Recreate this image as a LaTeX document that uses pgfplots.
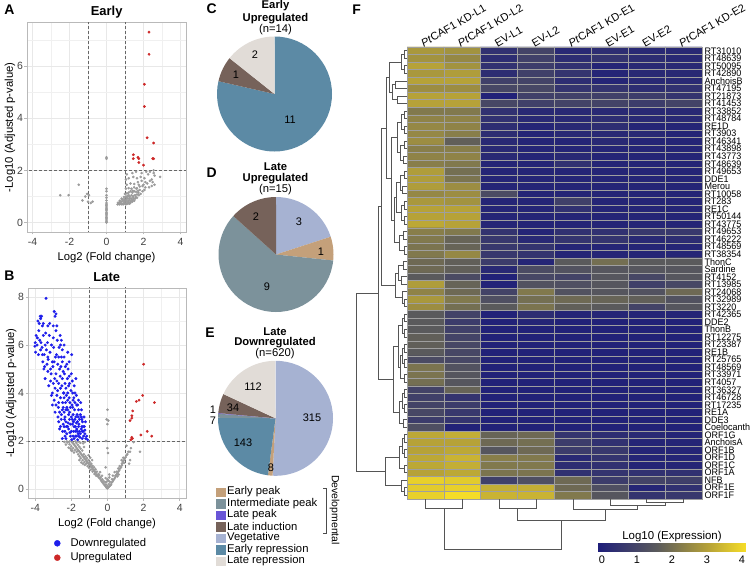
\documentclass[border=0pt]{standalone}
\usepackage{fontspec}
\setmainfont{Liberation Sans}
\newfontfamily\narrowfont[FakeStretch=0.95]{Liberation Sans}
\usepackage{pgfplots}
\pgfplotsset{compat=1.18}

\newcommand\fs[1]{\fontsize{#1}{#1}\selectfont}

\definecolor{epeak}{RGB}{196,160,122}
\definecolor{ipeak}{RGB}{124,146,155}
\definecolor{lpeak}{RGB}{105,85,215}
\definecolor{lind}{RGB}{118,98,90}
\definecolor{veg}{RGB}{166,178,210}
\definecolor{erep}{RGB}{92,138,165}
\definecolor{lrep}{RGB}{225,220,215}
\definecolor{down}{RGB}{30,30,235}
\definecolor{up}{RGB}{205,40,40}
\definecolor{ns}{RGB}{155,155,155}
\definecolor{dendro}{RGB}{85,85,85}

\pgfplotsset{
  colormap={hm}{rgb255(0cm)=(30,30,122) rgb255(1.6cm)=(90,90,92) rgb255(3cm)=(182,162,56) rgb255(4cm)=(245,220,40)},
  volc/.style={
    scale only axis, anchor=north west,
    /pgf/number format/assume math mode=true,
    axis line style={gray!55, line width=0.7pt},
    xtick={-4,-2,0,2,4}, minor xtick={-3,-1,1,3},
    grid=both,
    major grid style={gray!18, line width=0.7pt},
    minor grid style={gray!12, line width=0.4pt},
    tick pos=left, tick align=outside,
    major tick length=2.5bp, minor tick length=0pt,
    tick style={gray!55, line width=0.6pt},
    tick label style={font=\fs{10.5}, text=black!75},
    yticklabel style={xshift=2bp},
    xlabel={Log2 (Fold change)}, ylabel={-Log10 (Adjusted p-value)},
    label style={font=\fs{11.3}},
    ylabel style={at={(axis description cs:-0.107,0.5)}, anchor=center},
  },
  nsdot/.style={only marks, mark=*, mark size=1.1bp, ns, mark options={draw=none, fill=ns}},
  updot/.style={only marks, mark=*, mark size=1.2bp, up, mark options={draw=none, fill=up}},
  downdot/.style={only marks, mark=*, mark size=1.3bp, down, mark options={draw=none, fill=down}},
  vline/.style={black!60, line width=0.6pt, dash pattern=on 3bp off 2bp},
}

% pie slices, clockwise from 12 o'clock, counts given as value/colour
\newcommand\pie[3]{%
  \gdef\ptot{0}%
  \foreach \v/\c in {#3}{\pgfmathsetmacro\t{\ptot+\v}\xdef\ptot{\t}}%
  \gdef\pa{90}%
  \foreach \v/\c in {#3}{%
    \pgfmathsetmacro\pb{\pa-\v/\ptot*360}%
    \edef\temp{\noexpand\fill[\c] (axis cs:#1,#2) -- ++(\pa:57.5bp) arc[start angle=\pa, end angle=\pb, radius=57.5bp] -- cycle;}%
    \temp
    \xdef\pa{\pb}}%
}

\begin{document}
\begin{tikzpicture}
\useasboundingbox (0,0) rectangle (754bp,571bp);

% ---------------- A: Early volcano
\begin{axis}[volc, at={(27bp,548.3bp)}, width=159bp, height=209.3bp,
  xmin=-4.3, xmax=4.3, ymin=-0.36, ymax=7.66,
  ytick={0,2,4,6}, minor ytick={1,3,5,7}]
\addplot[nsdot] coordinates {
(0,0.0)(0,0.05)(0,0.1)(0,0.15)(0,0.2)(0,0.25)(0,0.3)(0,0.35)(0,0.4)(0,0.45)(0,0.5)(0,0.55)(0,0.6)(0,0.65)(0,0.7)(0,0.75)
(0,0.85)(0,0.95)(0,1.05)(0,1.2)(0,1.3)(0,2.45)(0,2.5)
(-2.5,1.05)(-2.05,1.05)(-1.5,1.45)(-1.3,0.85)(-1.15,1.0)(-1.05,1.1)(-0.95,1.05)(-0.85,0.75)(-0.75,0.8)(-1.0,0.8)
(0.6,0.7)(0.65,0.72)(0.7,0.7)(0.75,0.74)(0.8,0.7)(0.85,0.72)(0.9,0.7)(0.95,0.75)(1.0,0.72)(1.05,0.7)(1.1,0.74)(1.15,0.72)(1.2,0.75)(1.25,0.73)(1.3,0.76)
(0.7,0.78)(0.8,0.8)(0.9,0.82)(1.0,0.8)(1.1,0.82)(1.2,0.84)(1.3,0.82)(1.4,0.8)(1.5,0.84)
(0.85,0.88)(0.95,0.9)(1.05,0.88)(1.15,0.92)(1.25,0.9)(1.35,0.92)(1.45,0.9)(1.55,0.92)(1.65,0.95)
(0.95,0.98)(1.05,1.0)(1.15,1.02)(1.25,1.0)(1.35,1.05)(1.45,1.02)(1.55,1.05)(1.65,1.08)(1.75,1.05)(1.85,1.1)
(1.0,1.1)(1.1,1.12)(1.2,1.15)(1.3,1.2)(1.4,1.15)(1.5,1.2)(1.6,1.18)(1.7,1.22)(1.8,1.25)(1.95,1.2)(2.05,1.25)
(1.05,1.3)(1.2,1.32)(1.35,1.3)(1.5,1.35)(1.65,1.32)(1.8,1.38)(1.95,1.4)(2.1,1.35)(2.3,1.35)(2.45,1.4)
(1.1,1.45)(1.3,1.5)(1.5,1.48)(1.7,1.55)(1.9,1.6)(2.1,1.55)(2.5,1.55)(2.6,1.45)
(1.2,1.7)(1.45,1.75)(1.65,1.7)(1.85,1.75)(2.05,1.7)(2.25,1.85)(2.6,1.8)(2.9,1.75)(2.45,1.65)
(1.1,1.85)(1.4,1.9)(1.6,1.95)(1.9,1.9)(2.15,1.95)(2.35,1.95)(2.55,1.9)(1.05,1.65)
(1.25,0.95)(1.45,0.97)(0.98,0.85)(1.08,0.95)(1.18,0.78)(1.38,0.86)(1.58,0.98)(1.72,1.15)(0.62,0.76)(0.72,0.84)(0.82,0.92)
(2.2,1.5)(2.35,1.6)(1.75,1.45)(1.62,1.3)(1.42,1.22)(1.2,1.05)(2.0,1.45)(2.55,2.0)
};
\addplot[updot] coordinates {
(2.3,7.3)(2.3,6.45)(2.05,5.3)(2.05,4.45)(2.2,3.25)(2.55,3.05)(1.45,2.6)(1.45,2.45)
(1.7,2.5)(1.75,2.45)(1.75,2.3)(2.0,2.2)(2.5,2.45)(2.55,2.45)
};
\addplot[vline] coordinates {(-1,-1)(-1,9)};
\addplot[vline] coordinates {(1,-1)(1,9)};
\addplot[vline] coordinates {(-5,2)(5,2)};
\end{axis}

% ---------------- B: Late volcano
\begin{axis}[volc, at={(28bp,283bp)}, width=158bp, height=210bp,
  xmin=-4.4, xmax=4.35, ymin=-0.38, ymax=8.38,
  ytick={0,2,4,6,8}, minor ytick={1,3,5,7}]
\addplot[nsdot] coordinates {
(0,0.02)(-0.05,0.05)(0.05,0.06)(-0.1,0.1)(0.1,0.1)(-0.15,0.15)(0.15,0.14)(-0.2,0.2)(0.2,0.18)(0,0.12)(-0.08,0.18)(0.08,0.2)(0.02,0.08)
(-0.25,0.25)(-0.3,0.3)(-0.35,0.35)(-0.4,0.42)(-0.45,0.45)(-0.5,0.5)(-0.2,0.32)(-0.28,0.4)(-0.38,0.48)(0.22,0.25)(0.28,0.3)
(0.32,0.36)(0.38,0.42)(0.25,0.4)(0.42,0.48)(-0.12,0.28)(0.12,0.3)(-0.05,0.3)(0.05,0.35)(0,0.4)(-0.1,0.45)(0.1,0.48)
(-0.55,0.55)(-0.6,0.6)(-0.65,0.68)(-0.7,0.72)(-0.75,0.78)(-0.8,0.82)(-0.85,0.88)(-0.9,0.92)(-0.95,0.98)(-1.0,1.0)
(-0.5,0.62)(-0.58,0.72)(-0.66,0.82)(-0.74,0.9)(-0.82,0.96)(-0.62,0.55)(-0.72,0.62)(-0.82,0.72)(-0.92,0.8)(-1.02,0.88)
(-1.1,0.95)(-0.45,0.58)(0.45,0.55)(0.5,0.6)(0.55,0.65)(0.6,0.72)(0.65,0.78)(0.7,0.85)(0.75,0.9)(0.52,0.72)(0.6,0.85)
(0.68,0.95)(0.8,0.98)(0.55,0.52)(0.62,0.6)(-0.3,0.55)(0.3,0.55)(-0.4,0.7)(0.4,0.7)
(-1.05,1.05)(-1.1,1.1)(-1.15,1.15)(-1.2,1.2)(-1.25,1.25)(-1.3,1.3)(-1.35,1.35)(-1.4,1.4)(-1.45,1.45)(-0.9,1.05)
(-0.98,1.12)(-1.06,1.2)(-1.14,1.28)(-1.22,1.36)(-1.3,1.44)(-1.18,1.05)(-1.28,1.12)(-1.38,1.2)(-1.48,1.28)(-1.55,1.36)
(-1.62,1.44)(-1.45,1.1)(-1.55,1.2)(-1.25,1.0)(-1.35,1.05)(-1.5,1.5)(-0.85,1.2)(-0.95,1.3)(-1.05,1.4)
(0.8,1.05)(0.85,1.12)(0.9,1.18)(0.95,1.25)(1.0,1.32)(0.88,1.3)(0.78,1.2)(0.92,1.08)(1.05,1.4)(1.1,1.45)(1.2,1.05)(1.25,1.2)
(-1.55,1.55)(-1.6,1.6)(-1.65,1.65)(-1.7,1.7)(-1.75,1.75)(-1.8,1.8)(-1.85,1.85)(-1.9,1.9)(-1.95,1.95)(-2.0,1.98)
(-1.4,1.6)(-1.48,1.68)(-1.56,1.76)(-1.64,1.84)(-1.72,1.92)(-1.7,1.55)(-1.8,1.62)(-1.9,1.7)(-2.0,1.78)(-2.1,1.86)
(-2.2,1.94)(-1.85,1.52)(-2.0,1.6)(-2.15,1.72)(-2.3,1.85)(-2.38,1.96)(-1.3,1.75)(-1.35,1.9)(-1.25,1.95)(-1.5,1.92)
(-1.62,1.98)(-1.78,1.98)(-2.25,1.98)(-2.1,1.98)(-1.95,1.6)(-2.05,1.68)
(1.3,1.7)(1.45,1.95)(1.8,1.55)(1.15,1.55)(1.05,1.8)(1.25,1.55)
(0,3.3)(-0.05,2.9)(0.05,2.85)(0,2.7)(-0.08,2.0)(0,1.7)(0.03,1.5)(-0.1,0.9)(0.1,0.6)
};
\addplot[downdot] coordinates {
(-4.02,5.95)(-3.98,5.7)(-3.95,6.4)(-4.0,6.1)
(-3.85,7.0)(-3.8,6.6)(-3.78,6.9)(-3.82,5.6)(-3.75,6.2)(-3.88,6.3)(-3.72,7.2)
(-3.65,7.2)(-3.6,6.8)(-3.55,6.4)(-3.62,5.9)(-3.58,5.3)(-3.68,6.1)(-3.52,5.0)(-3.45,6.0)
(-3.4,7.95)(-3.42,6.5)(-3.38,5.8)(-3.35,5.2)(-3.45,4.6)(-3.32,6.1)(-3.3,5.5)(-3.48,5.1)
(-3.2,6.9)(-3.22,6.4)(-3.18,5.7)(-3.15,5.0)(-3.25,4.3)(-3.12,4.8)(-3.28,5.4)(-3.1,6.0)(-3.05,5.3)
(-2.95,7.4)(-2.9,7.2)(-3.0,6.3)(-2.98,5.9)(-3.02,5.1)(-2.92,4.6)(-3.05,4.0)(-2.88,5.5)(-2.85,6.6)(-2.95,3.7)
(-2.8,6.8)(-2.78,6.2)(-2.82,5.6)(-2.75,5.2)(-2.85,4.8)(-2.7,4.4)(-2.8,3.9)(-2.72,3.4)(-2.65,5.0)(-2.68,5.9)(-2.76,4.1)(-2.62,6.4)(-2.74,3.0)
(-2.6,6.0)(-2.55,5.5)(-2.58,5.1)(-2.62,4.7)(-2.52,4.3)(-2.6,3.8)(-2.5,3.3)(-2.56,2.9)(-2.45,4.9)(-2.48,3.6)(-2.65,2.5)(-2.5,5.8)(-2.42,4.0)
(-2.4,5.5)(-2.38,4.8)(-2.35,4.4)(-2.42,4.0)(-2.32,3.6)(-2.4,3.2)(-2.3,2.8)(-2.36,2.4)(-2.28,3.9)(-2.25,3.4)(-2.33,5.1)(-2.22,4.6)(-2.3,2.1)(-2.2,2.6)
(-2.2,5.7)(-2.18,5.0)(-2.15,4.3)(-2.12,3.8)(-2.2,3.3)(-2.1,2.9)(-2.15,2.5)(-2.05,2.2)(-2.08,3.6)(-2.02,4.1)(-2.12,4.7)(-2.0,3.0)(-2.06,2.7)
(-1.98,5.6)(-1.95,4.5)(-1.92,4.0)(-1.96,3.5)(-1.9,3.1)(-1.94,2.7)(-1.88,2.4)(-1.85,2.1)(-1.82,3.3)(-1.8,2.9)(-1.86,3.8)(-1.78,2.6)(-1.84,4.3)(-1.76,2.2)
(-1.72,3.9)(-1.7,3.5)(-1.68,3.1)(-1.66,2.8)(-1.7,2.5)(-1.62,2.3)(-1.65,2.05)(-1.6,3.3)(-1.58,2.7)(-1.55,2.4)(-1.6,3.7)(-1.52,2.15)(-1.75,4.6)
(-1.48,3.6)(-1.45,3.0)(-1.42,2.6)(-1.5,2.3)(-1.4,2.1)(-1.38,2.8)(-1.35,2.4)(-1.44,3.3)(-1.32,2.2)
(-1.28,2.6)(-1.25,2.3)(-1.2,2.1)(-1.22,2.8)(-1.15,2.2)(-1.1,2.05)(-1.3,3.0)
(-2.55,3.1)(-2.45,2.7)(-2.35,3.0)(-2.25,2.3)(-2.15,3.1)(-2.05,3.4)(-1.95,2.9)(-1.85,2.6)(-1.75,3.0)(-1.65,3.5)(-1.55,2.9)
(-1.45,2.5)(-2.5,2.1)(-2.4,2.6)(-2.3,3.3)(-2.2,3.7)(-2.1,3.2)(-2.0,2.4)(-1.9,2.2)(-1.8,3.6)(-1.7,2.2)(-1.6,2.6)(-1.5,3.1)
(-1.4,2.4)(-2.7,3.6)(-2.6,4.2)(-2.5,4.6)(-2.4,3.8)(-2.3,4.2)(-2.2,4.0)(-2.1,4.4)(-2.0,4.8)(-1.9,3.7)(-1.8,4.0)(-2.9,4.2)
(-2.85,3.5)(-3.1,3.9)(-3.0,4.4)(-2.95,5.3)(-2.7,5.5)(-2.55,6.2)(-2.8,4.5)(-3.15,4.5)(-3.3,4.9)(-3.5,5.6)(-3.7,5.8)
(-2.65,3.2)(-2.35,2.2)(-2.45,3.4)(-1.98,2.05)(-1.72,2.75)(-1.62,3.0)(-1.92,3.4)(-2.18,2.75)(-2.28,2.6)(-2.38,2.9)
(-2.48,2.4)(-1.58,2.2)(-1.68,2.4)(-1.78,2.4)(-1.88,2.8)(-2.08,2.35)(-1.42,2.9)(-1.35,2.6)(-1.25,2.45)(-2.6,2.6)
(-2.7,2.8)(-2.9,3.2)(-3.05,3.5)(-2.25,5.2)(-2.12,5.3)(-2.4,6.0)(-2.5,5.3)(-3.0,6.8)(-3.3,6.8)(-3.55,6.9)(-3.7,7.1)
(-2.85,7.3)(-3.6,5.6)(-3.9,6.0)
};
\addplot[updot] coordinates {
(2.0,5.2)(1.95,3.9)(1.75,3.7)(1.6,3.65)(2.6,3.6)(1.4,3.25)(1.35,3.05)(1.35,2.95)
(1.25,2.85)(2.2,2.4)(1.85,2.25)(2.45,2.2)(1.35,2.15)(1.3,2.05)(1.38,2.1)
};
\addplot[vline] coordinates {(-1,-1)(-1,9)};
\addplot[vline] coordinates {(1,-1)(1,9)};
\addplot[vline] coordinates {(-5,2)(5,2)};
\end{axis}

% ---------------- F: heatmap
\begin{axis}[at={(407bp,524bp)}, anchor=north west, scale only axis,
  width=295bp, height=452bp,
  xmin=-0.5, xmax=7.5, ymin=-0.5, ymax=59.5, y dir=reverse,
  colormap name=hm, point meta min=0, point meta max=4,
  axis line style={gray!75, line width=0.7pt},
  xtick={0,...,7}, xticklabel pos=upper,
  xticklabels={{\textit{Pt}CAF1 KD-L1},{\textit{Pt}CAF1 KD-L2},EV-L1,EV-L2,{\textit{Pt}CAF1 KD-E1},EV-E1,EV-E2,{\textit{Pt}CAF1 KD-E2}},
  xticklabel style={rotate=30, anchor=south west, font=\fs{11}, xshift=-5bp, yshift=-3bp},
  ytick={0,...,59}, yticklabel pos=right,
  yticklabels={RT31010,RT48639,RT50095,RT42890,AnchoisB,RT47195,RT21873,RT41453,RT33852,RT48784,RE1D,RT3903,RT46341,RT43898,RT43773,RT48639,RT49653,DDE1,Merou,RT10058,RT283,RE1C,RT50144,RT43775,RT49653,RT46222,RT48569,RT38354,ThonC,Sardine,RT4152,RT13985,RT24068,RT32989,RT3220,RT42365,DDE2,ThonB,RT12275,RT23387,RE1B,RT25765,RT48569,RT33971,RT4057,RT36327,RT46728,RT17235,RE1A,DDE3,Coelocanth,ORF1G,AnchoisA,ORF1B,ORF1D,ORF1C,ORF1A,NFB,ORF1E,ORF1F},
  yticklabel style={font=\narrowfont\fs{9.5}, xshift=-1bp},
  major tick length=0pt,
  extra x ticks={0.5,1.5,...,6.5}, extra x tick labels={},
  extra y ticks={0.5,1.5,...,58.5}, extra y tick labels={},
  extra tick style={grid=major},
  major grid style={gray!75, line width=0.6pt},
  axis on top]
\addplot[matrix plot*, mesh/cols=8, point meta=explicit] coordinates {
(0,0)[2.8] (1,0)[2.7] (2,0)[0.5] (3,0)[1.0] (4,0)[0.3] (5,0)[0.4] (6,0)[0.3] (7,0)[0.3]
(0,1)[2.7] (1,1)[2.5] (2,1)[0.4] (3,1)[0.9] (4,1)[0.4] (5,1)[0.6] (6,1)[0.4] (7,1)[0.3]
(0,2)[3.0] (1,2)[2.7] (2,2)[0.5] (3,2)[0.8] (4,2)[0.5] (5,2)[0.2] (6,2)[0.3] (7,2)[0.3]
(0,3)[2.8] (1,3)[2.9] (2,3)[0.4] (3,3)[0.9] (4,3)[0.6] (5,3)[0.2] (6,3)[0.3] (7,3)[0.3]
(0,4)[3.0] (1,4)[3.0] (2,4)[0.9] (3,4)[1.0] (4,4)[0.4] (5,4)[0.2] (6,4)[0.3] (7,4)[0.3]
(0,5)[2.6] (1,5)[2.6] (2,5)[1.1] (3,5)[1.1] (4,5)[0.6] (5,5)[0.6] (6,5)[0.4] (7,5)[0.5]
(0,6)[3.0] (1,6)[3.0] (2,6)[0.1] (3,6)[0.9] (4,6)[0.9] (5,6)[0.9] (6,6)[0.8] (7,6)[0.6]
(0,7)[3.0] (1,7)[3.0] (2,7)[1.1] (3,7)[0.9] (4,7)[1.0] (5,7)[1.0] (6,7)[0.8] (7,7)[1.0]
(0,8)[2.2] (1,8)[2.2] (2,8)[0.5] (3,8)[0.3] (4,8)[0.3] (5,8)[0.3] (6,8)[0.3] (7,8)[0.3]
(0,9)[2.4] (1,9)[2.4] (2,9)[0.5] (3,9)[0.3] (4,9)[0.3] (5,9)[0.4] (6,9)[0.3] (7,9)[0.3]
(0,10)[2.5] (1,10)[2.4] (2,10)[0.4] (3,10)[0.2] (4,10)[0.3] (5,10)[0.4] (6,10)[0.2] (7,10)[0.2]
(0,11)[2.5] (1,11)[2.3] (2,11)[0.4] (3,11)[0.2] (4,11)[0.3] (5,11)[0.3] (6,11)[0.3] (7,11)[0.2]
(0,12)[2.6] (1,12)[1.7] (2,12)[0.3] (3,12)[0.2] (4,12)[0.2] (5,12)[0.3] (6,12)[0.2] (7,12)[0.2]
(0,13)[2.3] (1,13)[2.3] (2,13)[0.3] (3,13)[0.2] (4,13)[0.2] (5,13)[0.2] (6,13)[0.2] (7,13)[0.2]
(0,14)[2.4] (1,14)[2.4] (2,14)[0.3] (3,14)[0.2] (4,14)[0.3] (5,14)[0.2] (6,14)[0.2] (7,14)[0.2]
(0,15)[2.3] (1,15)[2.2] (2,15)[0.2] (3,15)[0.2] (4,15)[0.5] (5,15)[0.2] (6,15)[0.2] (7,15)[0.2]
(0,16)[2.9] (1,16)[2.0] (2,16)[0.2] (3,16)[0.2] (4,16)[0.2] (5,16)[0.2] (6,16)[0.2] (7,16)[0.2]
(0,17)[2.9] (1,17)[2.1] (2,17)[0.2] (3,17)[0.2] (4,17)[0.2] (5,17)[0.2] (6,17)[0.2] (7,17)[0.2]
(0,18)[2.9] (1,18)[2.6] (2,18)[0.2] (3,18)[0.2] (4,18)[0.2] (5,18)[0.2] (6,18)[0.2] (7,18)[0.2]
(0,19)[2.5] (1,19)[2.6] (2,19)[1.2] (3,19)[0.2] (4,19)[0.2] (5,19)[0.2] (6,19)[0.2] (7,19)[0.2]
(0,20)[2.8] (1,20)[2.7] (2,20)[0.2] (3,20)[0.2] (4,20)[0.9] (5,20)[0.2] (6,20)[0.2] (7,20)[0.2]
(0,21)[3.0] (1,21)[3.0] (2,21)[0.2] (3,21)[0.2] (4,21)[0.5] (5,21)[0.2] (6,21)[0.2] (7,21)[0.2]
(0,22)[3.0] (1,22)[3.0] (2,22)[0.2] (3,22)[0.2] (4,22)[0.2] (5,22)[0.2] (6,22)[0.2] (7,22)[0.2]
(0,23)[3.1] (1,23)[3.0] (2,23)[0.2] (3,23)[0.2] (4,23)[0.2] (5,23)[0.2] (6,23)[0.2] (7,23)[0.2]
(0,24)[2.3] (1,24)[2.2] (2,24)[0.6] (3,24)[0.2] (4,24)[0.5] (5,24)[0.5] (6,24)[0.7] (7,24)[0.7]
(0,25)[2.2] (1,25)[1.8] (2,25)[0.7] (3,25)[0.3] (4,25)[0.6] (5,25)[0.6] (6,25)[0.3] (7,25)[0.4]
(0,26)[2.1] (1,26)[1.8] (2,26)[0.7] (3,26)[0.6] (4,26)[0.2] (5,26)[0.2] (6,26)[0.2] (7,26)[0.2]
(0,27)[2.2] (1,27)[2.5] (2,27)[0.7] (3,27)[0.6] (4,27)[0.2] (5,27)[0.2] (6,27)[0.2] (7,27)[0.2]
(0,28)[1.9] (1,28)[1.7] (2,28)[0.8] (3,28)[0.2] (4,28)[1.6] (5,28)[2.0] (6,28)[1.6] (7,28)[1.6]
(0,29)[1.9] (1,29)[1.7] (2,29)[0.3] (3,29)[1.2] (4,29)[1.4] (5,29)[1.5] (6,29)[1.5] (7,29)[1.5]
(0,30)[1.6] (1,30)[1.2] (2,30)[0.1] (3,30)[1.1] (4,30)[1.0] (5,30)[1.5] (6,30)[1.1] (7,30)[1.5]
(0,31)[2.9] (1,31)[1.8] (2,31)[0.1] (3,31)[1.4] (4,31)[1.3] (5,31)[1.5] (6,31)[0.9] (7,31)[1.1]
(0,32)[2.4] (1,32)[1.9] (2,32)[1.0] (3,32)[2.2] (4,32)[1.4] (5,32)[1.5] (6,32)[1.4] (7,32)[1.9]
(0,33)[2.8] (1,33)[2.2] (2,33)[1.3] (3,33)[2.0] (4,33)[1.9] (5,33)[1.8] (6,33)[1.7] (7,33)[1.4]
(0,34)[2.6] (1,34)[2.0] (2,34)[1.6] (3,34)[2.1] (4,34)[1.7] (5,34)[1.6] (6,34)[1.0] (7,34)[1.5]
(0,35)[1.6] (1,35)[1.0] (2,35)[0.1] (3,35)[0.4] (4,35)[0.2] (5,35)[0.2] (6,35)[0.2] (7,35)[0.2]
(0,36)[1.6] (1,36)[0.8] (2,36)[0.1] (3,36)[0.2] (4,36)[0.1] (5,36)[0.1] (6,36)[0.1] (7,36)[0.1]
(0,37)[1.6] (1,37)[0.9] (2,37)[0.1] (3,37)[0.1] (4,37)[0.1] (5,37)[0.1] (6,37)[0.1] (7,37)[0.1]
(0,38)[1.7] (1,38)[1.0] (2,38)[0.1] (3,38)[0.1] (4,38)[0.1] (5,38)[0.1] (6,38)[0.1] (7,38)[0.1]
(0,39)[1.7] (1,39)[1.1] (2,39)[0.1] (3,39)[0.1] (4,39)[0.1] (5,39)[0.1] (6,39)[0.1] (7,39)[0.1]
(0,40)[1.6] (1,40)[1.1] (2,40)[0.1] (3,40)[0.1] (4,40)[0.1] (5,40)[0.1] (6,40)[0.1] (7,40)[0.1]
(0,41)[1.2] (1,41)[1.1] (2,41)[0.1] (3,41)[0.1] (4,41)[0.1] (5,41)[0.1] (6,41)[0.1] (7,41)[0.1]
(0,42)[2.1] (1,42)[1.4] (2,42)[0.1] (3,42)[0.1] (4,42)[0.1] (5,42)[0.1] (6,42)[0.1] (7,42)[0.1]
(0,43)[2.1] (1,43)[1.5] (2,43)[0.1] (3,43)[0.1] (4,43)[0.1] (5,43)[0.1] (6,43)[0.1] (7,43)[0.1]
(0,44)[2.0] (1,44)[1.5] (2,44)[0.1] (3,44)[0.1] (4,44)[0.1] (5,44)[0.1] (6,44)[0.1] (7,44)[0.1]
(0,45)[1.0] (1,45)[1.8] (2,45)[0.1] (3,45)[0.1] (4,45)[0.1] (5,45)[0.1] (6,45)[0.1] (7,45)[0.1]
(0,46)[0.9] (1,46)[0.6] (2,46)[0.1] (3,46)[0.1] (4,46)[0.1] (5,46)[0.1] (6,46)[0.1] (7,46)[0.1]
(0,47)[1.0] (1,47)[0.8] (2,47)[0.1] (3,47)[0.1] (4,47)[0.1] (5,47)[0.1] (6,47)[0.1] (7,47)[0.1]
(0,48)[1.1] (1,48)[0.7] (2,48)[0.1] (3,48)[0.1] (4,48)[0.1] (5,48)[0.1] (6,48)[0.1] (7,48)[0.1]
(0,49)[0.8] (1,49)[0.6] (2,49)[0.1] (3,49)[0.1] (4,49)[0.1] (5,49)[0.1] (6,49)[0.1] (7,49)[0.1]
(0,50)[1.3] (1,50)[0.1] (2,50)[0.1] (3,50)[0.1] (4,50)[0.1] (5,50)[0.1] (6,50)[0.1] (7,50)[0.1]
(0,51)[3.1] (1,51)[3.2] (2,51)[1.8] (3,51)[1.9] (4,51)[0.6] (5,51)[0.4] (6,51)[0.3] (7,51)[0.2]
(0,52)[3.0] (1,52)[3.0] (2,52)[1.9] (3,52)[2.0] (4,52)[0.8] (5,52)[0.5] (6,52)[0.2] (7,52)[0.2]
(0,53)[3.0] (1,53)[3.1] (2,53)[1.5] (3,53)[1.9] (4,53)[0.8] (5,53)[0.7] (6,53)[0.2] (7,53)[0.2]
(0,54)[3.1] (1,54)[3.3] (2,54)[2.3] (3,54)[2.2] (4,54)[0.3] (5,54)[0.6] (6,54)[0.2] (7,54)[0.2]
(0,55)[3.1] (1,55)[3.2] (2,55)[2.2] (3,55)[2.2] (4,55)[0.4] (5,55)[0.5] (6,55)[0.2] (7,55)[0.2]
(0,56)[3.0] (1,56)[3.1] (2,56)[2.1] (3,56)[2.1] (4,56)[0.5] (5,56)[0.6] (6,56)[0.5] (7,56)[0.5]
(0,57)[3.8] (1,57)[3.7] (2,57)[0.9] (3,57)[1.3] (4,57)[1.9] (5,57)[0.8] (6,57)[1.0] (7,57)[0.9]
(0,58)[3.7] (1,58)[3.8] (2,58)[3.2] (3,58)[3.2] (4,58)[1.9] (5,58)[1.3] (6,58)[0.2] (7,58)[0.5]
(0,59)[3.8] (1,59)[4.0] (2,59)[3.3] (3,59)[3.3] (4,59)[2.2] (5,59)[1.5] (6,59)[0.6] (7,59)[0.7]
};
\end{axis}

% ---------------- colour key
\begin{axis}[at={(598bp,28bp)}, anchor=north west, scale only axis,
  width=147bp, height=9bp,
  xmin=-0.114, xmax=4.086, ymin=0, ymax=1,
  colormap name=hm, point meta min=-0.114, point meta max=4.086,
  hide y axis, axis x line*=bottom, x axis line style={draw=none},
  xtick={0,1,2,3,4}, major tick length=0pt,
  /pgf/number format/assume math mode=true,
  tick label style={font=\fs{11}}]
\addplot[surf, shader=interp, mesh/cols=9, point meta=x] coordinates {
(-0.114,0) (0.5,0) (1,0) (1.5,0) (2,0) (2.5,0) (3,0) (3.5,0) (4.086,0)
(-0.114,1) (0.5,1) (1,1) (1.5,1) (2,1) (2.5,1) (3,1) (3.5,1) (4.086,1)
};
\end{axis}

% ---------------- overlay in image pixel units: pies, dendrograms, text
\begin{axis}[at={(0,0)}, anchor=south west, scale only axis,
  width=754bp, height=571bp, xmin=0, xmax=754, ymin=0, ymax=571,
  y dir=reverse, hide axis, clip=false, unbounded coords=jump]

\pie{274.5}{94}{11/erep, 1/lind, 2/lrep}
\pie{276}{254.5}{3/veg, 1/epeak, 9/ipeak, 2/lind}
\pie{275.5}{418.3}{315/veg, 8/epeak, 143/erep, 7/ipeak, 1/lpeak, 34/lind, 112/lrep}

% row dendrogram
\addplot[dendro, line width=0.8pt] coordinates {
(407,50.8)(404,50.8)(404,58.3)(407,58.3)(nan,nan)
(407,65.8)(404,65.8)(404,73.4)(407,73.4)(nan,nan)
(404,54.55)(401,54.55)(401,69.6)(404,69.6)(nan,nan)
(407,80.9)(395,80.9)(395,88.4)(407,88.4)(nan,nan)
(407,96.0)(397,96.0)(397,103.5)(407,103.5)(nan,nan)
(395,84.65)(392,84.65)(392,99.75)(397,99.75)(nan,nan)
(401,62.1)(389,62.1)(389,92.2)(392,92.2)(nan,nan)
(407,111.0)(404,111.0)(404,118.6)(407,118.6)(nan,nan)
(407,126.1)(404,126.1)(404,133.6)(407,133.6)(nan,nan)
(404,114.8)(401,114.8)(401,129.85)(404,129.85)(nan,nan)
(407,141.1)(404,141.1)(404,148.7)(407,148.7)(nan,nan)
(407,156.2)(403,156.2)(403,163.7)(407,163.7)(nan,nan)
(404,144.9)(400,144.9)(400,159.95)(403,159.95)(nan,nan)
(401,122.3)(397,122.3)(397,152.4)(400,152.4)(nan,nan)
(407,171.2)(404,171.2)(404,178.8)(407,178.8)(nan,nan)
(407,186.3)(402,186.3)(402,193.8)(407,193.8)(nan,nan)
(404,175.0)(400,175.0)(400,190.05)(402,190.05)(nan,nan)
(407,201.4)(404,201.4)(404,208.9)(407,208.9)(nan,nan)
(407,216.4)(404,216.4)(404,223.9)(407,223.9)(nan,nan)
(404,205.15)(401,205.15)(401,220.15)(404,220.15)(nan,nan)
(400,182.5)(396,182.5)(396,212.65)(401,212.65)(nan,nan)
(407,231.5)(403,231.5)(403,239.0)(407,239.0)(nan,nan)
(407,246.5)(404,246.5)(404,254.1)(407,254.1)(nan,nan)
(403,235.25)(399,235.25)(399,250.3)(404,250.3)(nan,nan)
(396,197.6)(394,197.6)(394,242.8)(399,242.8)(nan,nan)
(397,137.35)(391,137.35)(391,220.2)(394,220.2)(nan,nan)
(389,77.15)(386,77.15)(386,178.8)(391,178.8)(nan,nan)
(407,261.6)(403,261.6)(403,269.1)(407,269.1)(nan,nan)
(407,276.6)(401,276.6)(401,284.2)(407,284.2)(nan,nan)
(403,265.35)(398,265.35)(398,280.4)(401,280.4)(nan,nan)
(407,299.2)(404,299.2)(404,306.8)(407,306.8)(nan,nan)
(407,291.7)(402,291.7)(402,303.0)(404,303.0)(nan,nan)
(398,272.9)(395,272.9)(395,297.35)(402,297.35)(nan,nan)
(386,127.98)(381,127.98)(381,285.1)(395,285.1)(nan,nan)
(407,314.3)(404,314.3)(404,321.8)(407,321.8)(nan,nan)
(407,329.3)(404,329.3)(404,336.9)(407,336.9)(nan,nan)
(404,318.05)(402,318.05)(402,333.1)(404,333.1)(nan,nan)
(407,344.4)(404,344.4)(404,351.9)(407,351.9)(nan,nan)
(407,359.5)(404,359.5)(404,367.0)(407,367.0)(nan,nan)
(404,348.15)(402,348.15)(402,363.25)(404,363.25)(nan,nan)
(407,374.5)(404,374.5)(404,382.0)(407,382.0)(nan,nan)
(402,355.7)(400,355.7)(400,378.25)(404,378.25)(nan,nan)
(402,325.6)(398,325.6)(398,366.98)(400,366.98)(nan,nan)
(407,389.6)(404,389.6)(404,397.1)(407,397.1)(nan,nan)
(407,404.6)(404,404.6)(404,412.2)(407,412.2)(nan,nan)
(404,393.35)(402,393.35)(402,408.4)(404,408.4)(nan,nan)
(407,419.7)(403,419.7)(403,427.2)(407,427.2)(nan,nan)
(402,400.9)(399,400.9)(399,423.45)(403,423.45)(nan,nan)
(398,346.3)(393,346.3)(393,412.2)(399,412.2)(nan,nan)
(381,206.55)(378,206.55)(378,379.25)(393,379.25)(nan,nan)
(407,434.7)(404,434.7)(404,442.3)(407,442.3)(nan,nan)
(407,449.8)(404,449.8)(404,457.3)(407,457.3)(nan,nan)
(404,438.5)(402,438.5)(402,453.55)(404,453.55)(nan,nan)
(407,464.9)(404,464.9)(404,472.4)(407,472.4)(nan,nan)
(402,446.0)(399,446.0)(399,468.65)(404,468.65)(nan,nan)
(407,487.4)(404,487.4)(404,495.0)(407,495.0)(nan,nan)
(407,479.9)(401,479.9)(401,491.2)(404,491.2)(nan,nan)
(399,457.3)(385,457.3)(385,485.55)(401,485.55)(nan,nan)
(378,292.9)(356,292.9)(356,471.4)(385,471.4)
};
% column dendrogram
\addplot[dendro, line width=0.8pt] coordinates {
(425.4,499)(425.4,508)(462.3,508)(462.3,499)(nan,nan)
(499.2,499)(499.2,508)(536.1,508)(536.1,499)(nan,nan)
(646.8,499)(646.8,502)(683.7,502)(683.7,499)(nan,nan)
(609.9,499)(609.9,505)(665.3,505)(665.3,502)(nan,nan)
(573,499)(573,509)(637.6,509)(637.6,505)(nan,nan)
(517.7,508)(517.7,520)(605.3,520)(605.3,509)(nan,nan)
(443.9,508)(443.9,549)(561.5,549)(561.5,520)
};

% legend of A/B
\addplot[only marks, mark=*, mark size=3bp, down, mark options={draw=none, fill=down}] coordinates {(57.3,543.3)};
\addplot[only marks, mark=*, mark size=3bp, up, mark options={draw=none, fill=up}] coordinates {(57.3,557.7)};
\node[anchor=west, font=\fs{11.3}] at (axis cs:67,543.3) {Downregulated};
\node[anchor=west, font=\fs{11.3}] at (axis cs:67,557.7) {Upregulated};

% legend of C-E
\addplot[only marks, mark=square*, mark size=4.3bp, epeak, mark options={draw=none, fill=epeak}] coordinates {(220.5,492)};
\addplot[only marks, mark=square*, mark size=4.3bp, ipeak, mark options={draw=none, fill=ipeak}] coordinates {(220.5,503.5)};
\addplot[only marks, mark=square*, mark size=4.3bp, lpeak, mark options={draw=none, fill=lpeak}] coordinates {(220.5,515)};
\addplot[only marks, mark=square*, mark size=4.3bp, lind, mark options={draw=none, fill=lind}] coordinates {(220.5,526.5)};
\addplot[only marks, mark=square*, mark size=4.3bp, veg, mark options={draw=none, fill=veg}] coordinates {(220.5,538)};
\addplot[only marks, mark=square*, mark size=4.3bp, erep, mark options={draw=none, fill=erep}] coordinates {(220.5,549.5)};
\addplot[only marks, mark=square*, mark size=4.3bp, lrep, mark options={draw=none, fill=lrep}] coordinates {(220.5,561)};
\begin{scope}[every node/.style={anchor=west, font=\fs{11.3}, inner sep=0pt}]
\node at (axis cs:227,492) {Early peak};
\node at (axis cs:227,503.5) {Intermediate peak};
\node at (axis cs:227,515) {Late peak};
\node at (axis cs:227,526.5) {Late induction};
\node at (axis cs:227,538) {Vegetative};
\node at (axis cs:227,549.5) {Early repression};
\node at (axis cs:227,561) {Late repression};
\end{scope}
\addplot[black!70, line width=0.6pt] coordinates {(323,488.3)(326,488.3)(326,533.3)(323,533.3)};
\node[rotate=-90, font=\fs{10.5}] at (axis cs:334.5,510) {Developmental};

% panel letters and titles
\begin{scope}[every node/.style={font=\bfseries\fs{14}}]
\node at (axis cs:9.3,9.3) {A};
\node at (axis cs:9.3,275.3) {B};
\node at (axis cs:211.7,8.3) {C};
\node at (axis cs:211.7,172.7) {D};
\node at (axis cs:210,332.3) {E};
\node at (axis cs:356.7,9.3) {F};
\end{scope}
\node[font=\bfseries\fs{13}] at (axis cs:106.7,11.7) {Early};
\node[font=\bfseries\fs{13}] at (axis cs:106.7,277.3) {Late};

\begin{scope}[every node/.style={font=\bfseries\fs{11.3}}]
\node at (axis cs:275.5,6) {Early};
\node at (axis cs:275.5,18.3) {Upregulated};
\node at (axis cs:275.5,166.7) {Late};
\node at (axis cs:275.5,178.3) {Upregulated};
\node at (axis cs:275,331.7) {Late};
\node at (axis cs:275,342.7) {Downregulated};
\end{scope}
\begin{scope}[every node/.style={font=\fs{11.3}}]
\node at (axis cs:275.5,29.5) {(n=14)};
\node at (axis cs:275.5,190) {(n=15)};
\node at (axis cs:275,354) {(n=620)};
\end{scope}

% slice counts
\begin{scope}[every node/.style={font=\fs{11}}]
\node at (axis cs:290,120) {11};
\node at (axis cs:236,75) {1};
\node at (axis cs:255,55) {2};
\node at (axis cs:299,222) {3};
\node at (axis cs:321,252) {1};
\node at (axis cs:267,287) {9};
\node at (axis cs:256,217) {2};
\node at (axis cs:312,418) {315};
\node at (axis cs:271,468) {8};
\node at (axis cs:243,443) {143};
\node at (axis cs:213,410) {1};
\node at (axis cs:213,421) {7};
\node at (axis cs:233,408) {34};
\node at (axis cs:253,387) {112};
\end{scope}

\node[font=\fs{11.5}] at (axis cs:672,537) {Log10 (Expression)};
\end{axis}
\end{tikzpicture}
\end{document}
